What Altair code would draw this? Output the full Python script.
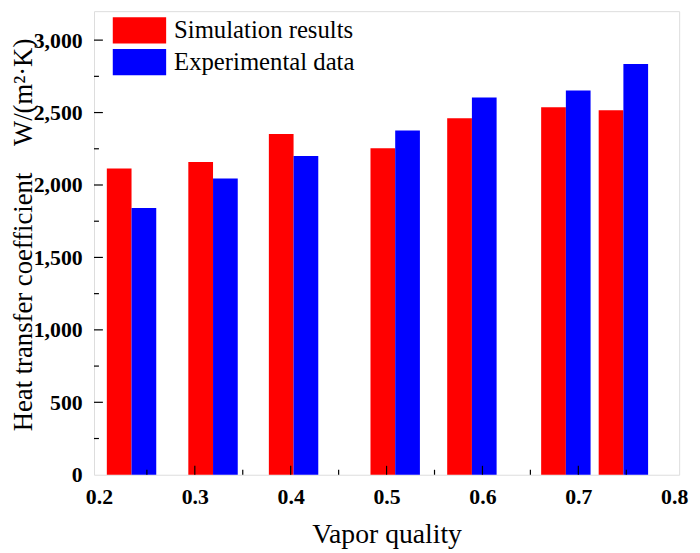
import altair as alt
import pandas as pd

quality = [0.234, 0.319, 0.403, 0.509, 0.589, 0.687, 0.747]
simulation = [2114, 2159, 2352, 2254, 2461, 2536, 2516]
experimental = [1841, 2045, 2200, 2377, 2604, 2652, 2836]
series_names = ["Simulation results", "Experimental data"]
series_colors = ["#FF0000", "#0000FF"]

x_major = [0.3, 0.4, 0.5, 0.6, 0.7]
x_minor = [0.25, 0.35, 0.45, 0.55, 0.65, 0.75]
y_major = [500, 1000, 1500, 2000, 2500, 3000]
y_minor = [250, 750, 1250, 1750, 2250, 2750]

W, H = 592, 469
FONT = "Liberation Serif"

sim_df = pd.DataFrame({"q": quality, "v": simulation, "s": series_names[0]})
exp_df = pd.DataFrame({"q": quality, "v": experimental, "s": series_names[1]})

xs = alt.Scale(domain=[0.2, 0.8], nice=False, zero=False)
ys = alt.Scale(domain=[0, 3200], nice=False)
cs = alt.Scale(domain=series_names, range=series_colors)

xaxis = alt.Axis(values=[0.2, 0.3, 0.4, 0.5, 0.6, 0.7, 0.8], format=".1f", grid=False,
                 ticks=False, domain=False, labelFont=FONT, labelFontSize=22,
                 labelFontWeight="bold", labelColor="black", labelPadding=12,
                 title="Vapor quality", titleFont=FONT, titleFontSize=28,
                 titleFontWeight="normal", titleColor="black",
                 titleBaseline="alphabetic", titleY=69, titleX=W / 2,
                 titleAlign="center", labelFlush=False)
yaxis = alt.Axis(values=[0, 500, 1000, 1500, 2000, 2500, 3000], format=",d", grid=False,
                 ticks=False, domain=False, labelFont=FONT, labelFontSize=22,
                 labelFontWeight="bold", labelColor="black", labelPadding=12,
                 title="Heat transfer coefficient\u2003W/(m²·K)", titleFont=FONT,
                 titleFontSize=27, titleFontWeight="normal", titleColor="black",
                 titleAngle=270, titleAlign="center", titleBaseline="alphabetic",
                 titleX=-63, titleY=226)

legend = alt.Legend(title=None, orient="none", legendX=32.5, legendY=6,
                    symbolType="M-2,-0.98H2V0.98H-2Z", symbolSize=729,
                    symbolStrokeWidth=0, symbolOpacity=1,
                    labelFont=FONT, labelFontSize=25, labelColor="black",
                    labelOffset=21.5, labelLimit=0, rowPadding=5, padding=0)

sim = alt.Chart(sim_df).mark_bar(width=25, xOffset=-12.5, opacity=1).encode(
    x=alt.X("q:Q", scale=xs, axis=xaxis),
    y=alt.Y("v:Q", scale=ys, axis=yaxis),
    color=alt.Color("s:N", scale=cs, legend=legend),
)
exp = alt.Chart(exp_df).mark_bar(width=25, xOffset=12.5, opacity=1).encode(
    x=alt.X("q:Q", scale=xs),
    y=alt.Y("v:Q", scale=ys),
    color=alt.Color("s:N", scale=cs, legend=legend),
)

xt_major = alt.Chart(pd.DataFrame({"t": x_major})).mark_rule(color="black", strokeWidth=1.2).encode(
    x=alt.X("t:Q", scale=xs), y=alt.value(H), y2=alt.value(H - 9))
xt_minor = alt.Chart(pd.DataFrame({"t": x_minor})).mark_rule(color="black", strokeWidth=1.2).encode(
    x=alt.X("t:Q", scale=xs), y=alt.value(H), y2=alt.value(H - 5))
yt_major = alt.Chart(pd.DataFrame({"t": y_major})).mark_rule(color="black", strokeWidth=1.2).encode(
    y=alt.Y("t:Q", scale=ys), x=alt.value(0), x2=alt.value(9))
yt_minor = alt.Chart(pd.DataFrame({"t": y_minor})).mark_rule(color="black", strokeWidth=1.2).encode(
    y=alt.Y("t:Q", scale=ys), x=alt.value(0), x2=alt.value(5))

chart = alt.layer(sim, exp, xt_major, xt_minor, yt_major, yt_minor).properties(
    width=W, height=H,
    autosize=alt.AutoSizeParams(type="none"),
    padding={"left": 87, "top": 0, "right": 13, "bottom": 76},
).configure_view(stroke="black", strokeWidth=1.5).configure(background="white")

chart.save("out.html", embed_options={"renderer": "svg", "actions": False})
